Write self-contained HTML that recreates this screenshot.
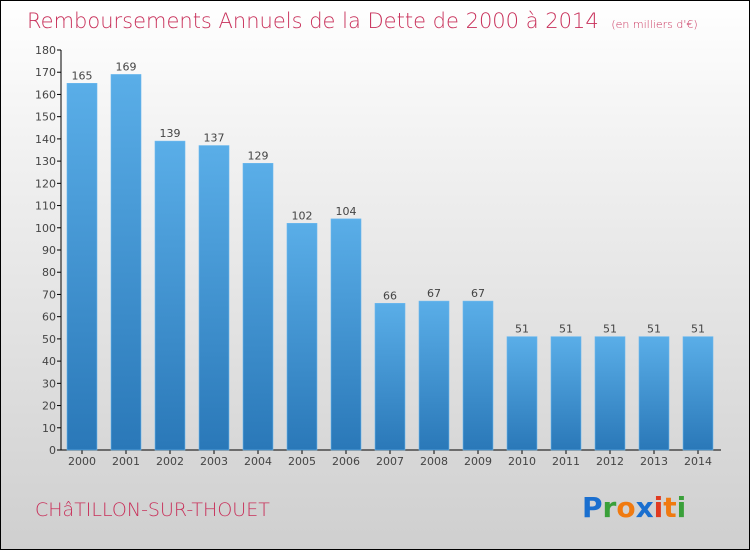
<!DOCTYPE html>
<html><head><meta charset="utf-8"><style>
html,body{margin:0;padding:0}
body{width:750px;height:550px;overflow:hidden;font-family:"DejaVu Sans","Liberation Sans",sans-serif}
#wrap{position:absolute;left:0;top:0;width:748px;height:548px;border:1px solid #000;background:linear-gradient(#ffffff,#f0f0f0 30%,#cfcfcf)}
</style></head><body>
<div id="wrap">
<svg id="chart" width="750" height="550" style="position:absolute;left:-1px;top:-1px">
<defs><linearGradient id="bg" x1="0" y1="0" x2="0" y2="1"><stop offset="0" stop-color="#5aaee8"/><stop offset="1" stop-color="#2a78b8"/></linearGradient></defs>
<text x="27" y="28" font-size="21" fill="#c8305a" font-family="DejaVu Sans,sans-serif" font-weight="200">Remboursements Annuels de la Dette de 2000 à 2014 <tspan font-size="11" dx="6">(en milliers d'€)</tspan></text>
<text x="35" y="516" font-size="19" fill="#c8305a" font-weight="200">CHâTILLON-SUR-THOUET</text>
<g font-size="28" font-weight="bold" font-family="DejaVu Sans,sans-serif">
<text x="582" y="517"><tspan fill="#1a6fcf">P</tspan><tspan fill="#3aa03a">r</tspan><tspan fill="#f07a10">o</tspan><tspan fill="#1a6fcf">x</tspan><tspan fill="#e03a20">i</tspan><tspan fill="#f07a10">t</tspan><tspan fill="#3aa03a">i</tspan></text>
</g>
<g id="axes"></g><g id="bars"></g>
</svg>
</div>
<script>
const years=["2000","2001","2002","2003","2004","2005","2006","2007","2008","2009","2010","2011","2012","2013","2014"];
const values=[165,169,139,137,129,102,104,66,67,67,51,51,51,51,51];
const yTicks=[0,10,20,30,40,50,60,70,80,90,100,110,120,130,140,150,160,170,180];
const NS="http://www.w3.org/2000/svg";
const y0=450,yTop=50,yMax=180;
function yS(v){return y0-(v/yMax)*(y0-yTop);}
function xS(i){return 82+i*44;}
function mk(t,a,p){const e=document.createElementNS(NS,t);for(const k in a)e.setAttribute(k,a[k]);p.appendChild(e);return e;}
const ax=document.getElementById('axes'),bars=document.getElementById('bars');
const yl=mk('line',{x1:61,y1:yTop,x2:61,y2:y0,stroke:'#000'},ax);


const xl=mk('line',{x1:61,y1:y0,x2:721,y2:y0,stroke:'#000'},ax);


yTicks.forEach(v=>{
  const y=yS(v);
  mk('line',{x1:57,y1:y,x2:61,y2:y,stroke:'#000'},ax);
  const t=mk('text',{x:56,y:y+4,'text-anchor':'end','font-size':11,fill:'#444'},ax);
  t.textContent=v;
  
  
});
years.forEach((yr,i)=>{
  const x=xS(i),v=values[i];
  const r=mk('rect',{x:x-15,y:yS(v),width:30,height:y0-yS(v),fill:'url(#bg)',stroke:'#6bb8ee','stroke-width':0.6},bars);
  
  
  const l=mk('text',{x:x,y:yS(v)-4,'text-anchor':'middle','font-size':11,fill:'#444'},bars);
  l.textContent=v;
  
  
  mk('line',{x1:x,y1:y0,x2:x,y2:y0+4,stroke:'#000'},ax);
  const xt=mk('text',{x:x,y:465,'text-anchor':'middle','font-size':11,fill:'#444'},ax);
  xt.textContent=yr;
  
  
});
</script>
</body></html>
